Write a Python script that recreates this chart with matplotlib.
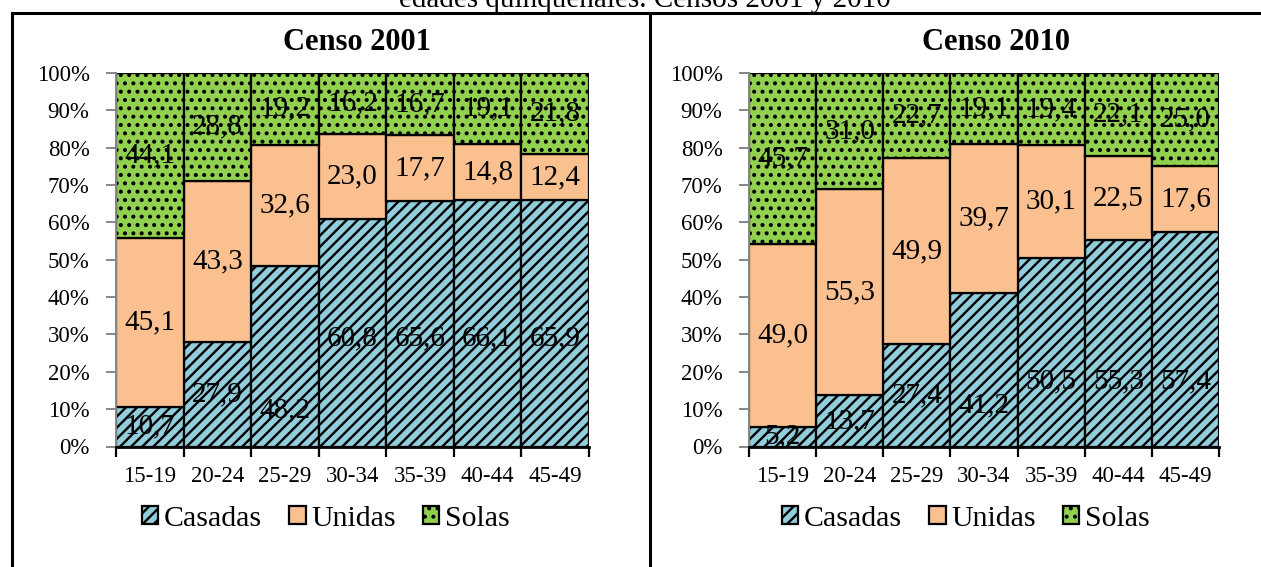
import matplotlib
matplotlib.use("Agg")
import matplotlib.pyplot as plt
from matplotlib.lines import Line2D
from matplotlib.ticker import FixedLocator, PercentFormatter
import numpy as np

plt.rcParams['font.family'] = ['Liberation Serif', 'DejaVu Serif']
plt.rcParams['hatch.color'] = 'black'
plt.rcParams['hatch.linewidth'] = 1.7

groups = ["15-19", "20-24", "25-29", "30-34", "35-39", "40-44", "45-49"]
series_names = ["Casadas", "Unidas", "Solas"]

casadas_2001 = [10.7, 27.9, 48.2, 60.8, 65.6, 66.1, 65.9]
unidas_2001 = [45.1, 43.3, 32.6, 23.0, 17.7, 14.8, 12.4]
solas_2001 = [44.1, 28.8, 19.2, 16.2, 16.7, 19.1, 21.8]

casadas_2010 = [5.2, 13.7, 27.4, 41.2, 50.5, 55.3, 57.4]
unidas_2010 = [49.0, 55.3, 49.9, 39.7, 30.1, 22.5, 17.6]
solas_2010 = [45.7, 31.0, 22.7, 19.1, 19.4, 22.1, 25.0]

# where the "Casadas" value labels sit (in % of the axis), None = centre of segment
casadas_label_at_2001 = [None, None, 9.8, 29.0, 29.0, 29.0, 29.0]
casadas_label_at_2010 = [None, None, None, 11.1, 17.5, 17.5, 17.5]

titles = ["Censo 2001", "Censo 2010"]
subtitle = "edades quinquenales. Censos 2001 y 2010"

colors = ["#92CDDC", "#FAC090", "#92D050"]
hatches = ["///", None, ".."]

W, H = 1261, 567
fig = plt.figure(figsize=(W / 100, H / 100), dpi=100)

def fx(px):
    return px / W

def fy(py):
    return 1 - py / H

panels = [
    dict(x0=116, x1=589, data=(casadas_2001, unidas_2001, solas_2001), lab=casadas_label_at_2001,
         title=titles[0], tx=357, lx=326),
    dict(x0=749, x1=1219, data=(casadas_2010, unidas_2010, solas_2010), lab=casadas_label_at_2010,
         title=titles[1], tx=996, lx=966),
]
ytop, ybot = 73, 446.5

for p in panels:
    ax = fig.add_axes([fx(p["x0"]), fy(ybot), fx(p["x1"] - p["x0"]), (ybot - ytop) / H])
    x = np.arange(len(groups))
    bottom = np.zeros(len(groups))
    conts = []
    for si, (vals, col, hat, name) in enumerate(zip(p["data"], colors, hatches, series_names)):
        v = np.array(vals)
        bc = ax.bar(x, v, width=1.0, bottom=bottom, color=col, edgecolor='black',
                    linewidth=1.6, hatch=hat, label=name, zorder=2)
        conts.append(bc)
        for xi, (b, vi) in enumerate(zip(bottom, v)):
            ypos = b + vi / 2
            if si == 0 and p["lab"][xi] is not None:
                ypos = p["lab"][xi]
            ax.text(xi, ypos, f"{vi:.1f}".replace(".", ","), ha='center', va='center',
                    fontsize=21, color='black', zorder=5)
        bottom = bottom + v
    ax.set_xlim(-0.5, len(groups) - 0.5)
    ax.set_ylim(0, 100)
    ax.yaxis.set_major_locator(FixedLocator(np.arange(0, 101, 10)))
    ax.yaxis.set_major_formatter(PercentFormatter(decimals=0))
    ax.xaxis.set_major_locator(FixedLocator(np.arange(-0.5, len(groups), 1.0)))
    ax.xaxis.set_major_formatter(plt.NullFormatter())
    ax.xaxis.set_minor_locator(FixedLocator(x))
    ax.set_xticklabels(groups, minor=True)
    ax.tick_params(axis='x', which='major', length=7, width=1.6, color='black', direction='out')
    ax.tick_params(axis='x', which='minor', length=0, pad=14, labelsize=16.5)
    ax.tick_params(axis='y', length=7, width=1.4, color='#868686', pad=12, labelsize=16.5)
    for s in ['top', 'right']:
        ax.spines[s].set_visible(False)
    ax.spines['left'].set_color('#868686')
    ax.spines['left'].set_linewidth(1.4)
    ax.spines['bottom'].set_color('black')
    ax.spines['bottom'].set_linewidth(2.0)
    ax.spines['bottom'].set_zorder(6)
    fig.text(fx(p["tx"]), fy(43), p["title"], ha='center', va='center', fontsize=22, fontweight='bold')
    fig.legend(handles=conts, labels=series_names, loc='center', bbox_to_anchor=(fx(p["lx"]), fy(519)),
               ncol=3, frameon=False, fontsize=21.5, handlelength=0.55, handleheight=0.55,
               handletextpad=0.2, columnspacing=0.9, borderpad=0, borderaxespad=0)

# frame lines
lw = 2.2
fig.add_artist(Line2D([fx(12), 1], [fy(13), fy(13)], color='black', lw=lw))
fig.add_artist(Line2D([fx(12), fx(12)], [fy(13), 0], color='black', lw=lw))
fig.add_artist(Line2D([fx(650), fx(650)], [fy(13), 0], color='black', lw=lw))

fig.text(fx(645), fy(7), subtitle, ha='center', va='baseline', fontsize=21)

fig.savefig("out.png", dpi=100)
